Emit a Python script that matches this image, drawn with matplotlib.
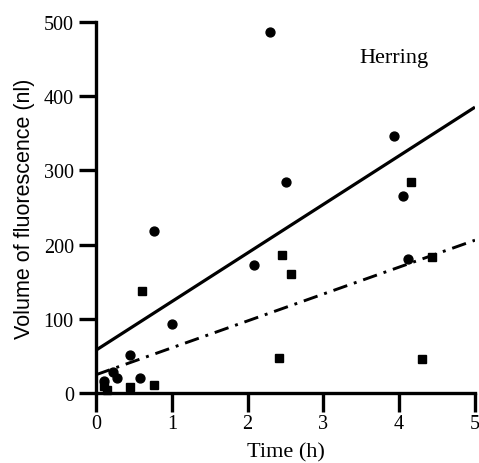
import matplotlib
matplotlib.use("Agg")
import matplotlib.pyplot as plt

# Data
circles_x = [0.10, 0.22, 0.28, 0.45, 0.58, 0.76, 1.00, 2.08, 2.30, 2.51, 3.93, 4.05, 4.11]
circles_y = [16, 28, 21, 51, 21, 218, 93, 173, 486, 284, 346, 265, 181]
squares_x = [0.10, 0.14, 0.45, 0.61, 0.77, 2.42, 2.45, 2.57, 4.16, 4.30, 4.43]
squares_y = [10, 4, 8, 137, 11, 48, 186, 161, 284, 46, 183]

fit_x = [0, 5]
solid_fit_y = [58, 385]
dashdot_fit_y = [25, 206]

x_ticks = [0, 1, 2, 3, 4, 5]
y_ticks = [0, 100, 200, 300, 400, 500]

serif = ["Liberation Serif", "DejaVu Serif"]
sans = ["Liberation Sans", "DejaVu Sans"]

fig = plt.figure(figsize=(4.79, 4.64), dpi=100)
ax = fig.add_axes([0.2004, 0.1502, 0.7912, 0.8009])

ax.plot(fit_x, solid_fit_y, color="black", lw=2.3, solid_capstyle="butt")
ax.plot(fit_x, dashdot_fit_y, color="black", lw=2.1,
        linestyle=(0, (5.0, 2.4, 1.0, 2.4)))

ax.plot(circles_x, circles_y, "o", color="black", markersize=6.4, clip_on=False)
ax.plot(squares_x, squares_y, "s", color="black", markersize=6.0, clip_on=False)

ax.set_xlim(0, 5)
ax.set_ylim(0, 500)
ax.set_xticks(x_ticks)
ax.set_yticks(y_ticks)

for s in ["top", "right"]:
    ax.spines[s].set_visible(False)
for s in ["left", "bottom"]:
    ax.spines[s].set_linewidth(2.4)

ax.tick_params(axis="x", direction="out", length=13.5, width=2.4, pad=1.5)
ax.tick_params(axis="y", direction="out", length=12.5, width=2.4, pad=3.5)
for lab in ax.get_xticklabels() + ax.get_yticklabels():
    lab.set_fontfamily(serif)
    lab.set_fontsize(14.5)

ax.set_xlabel("Time (h)", family=serif, fontsize=16, labelpad=6.5)
ax.set_ylabel("Volume of fluorescence (nl)", family=sans, fontsize=15.5, labelpad=6)

ax.text(3.48, 452, "Herring", family=serif, fontsize=16, ha="left", va="center")

fig.savefig("out.png", dpi=100)
